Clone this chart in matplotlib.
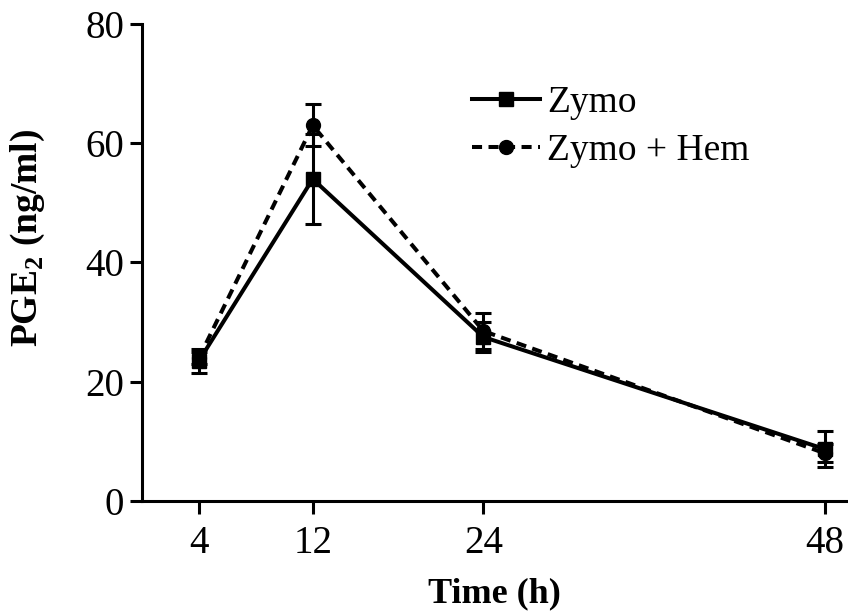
import numpy as np
import matplotlib.pyplot as plt

plt.rcParams['font.family'] = 'Liberation Serif'
plt.rcParams['mathtext.fontset'] = 'custom'
plt.rcParams['mathtext.rm'] = 'Liberation Serif'
plt.rcParams['mathtext.bf'] = 'Liberation Serif:bold'

# valores
tempo = [4, 12, 24, 48]
zymo = [23.5, 54.0, 27.5, 8.7]
zymo_err = [2.0, 7.5, 2.5, 3.0]
hem = [24.0, 63.0, 28.5, 8.0]
hem_err = [1.0, 3.5, 3.0, 1.5]

fig = plt.figure(figsize=(8.48, 6.15), dpi=100)
ax = fig.add_axes([0.1675, 0.1854, 0.832, 0.7756])

eb1 = ax.errorbar(tempo, zymo, yerr=zymo_err, color='black', lw=2.9, marker='s',
                  ms=10, capsize=6, capthick=2.2, elinewidth=2.2)
eb2 = ax.errorbar(tempo, hem, yerr=hem_err, color='black', lw=2.9, marker='o',
                  ms=10, capsize=6, capthick=2.2, elinewidth=2.2, dashes=(2.5, 1.6))

ax.set_xlim(0, 49.6)
ax.set_ylim(0, 80)
ax.set_xticks(tempo)
ax.set_yticks([0, 20, 40, 60, 80])
ax.spines['top'].set_visible(False)
ax.spines['right'].set_visible(False)
for s in ['left', 'bottom']:
    ax.spines[s].set_linewidth(2.2)
ax.tick_params(width=2.2, length=9, labelsize=28)
ax.tick_params(axis='y', pad=4)
ax.tick_params(axis='x', pad=8)

ax.set_xlabel('Time (h)', fontsize=26, fontweight='bold')
ax.set_ylabel(r'PGE$_\mathbf{2}$ (ng/ml)', fontsize=27, fontweight='bold')
ax.xaxis.set_label_coords(0.5, -0.161)
ax.yaxis.set_label_coords(-0.135, 0.551)

ax.legend([eb1[0], eb2[0]], ['Zymo', 'Zymo + Hem'], loc='upper left',
          bbox_to_anchor=(0.557, 0.861), bbox_transform=fig.transFigure,
          frameon=False, fontsize=27, handlelength=1.8, handletextpad=0.2,
          labelspacing=0.36, borderpad=0, borderaxespad=0)

fig.savefig('out.png', dpi=100)
